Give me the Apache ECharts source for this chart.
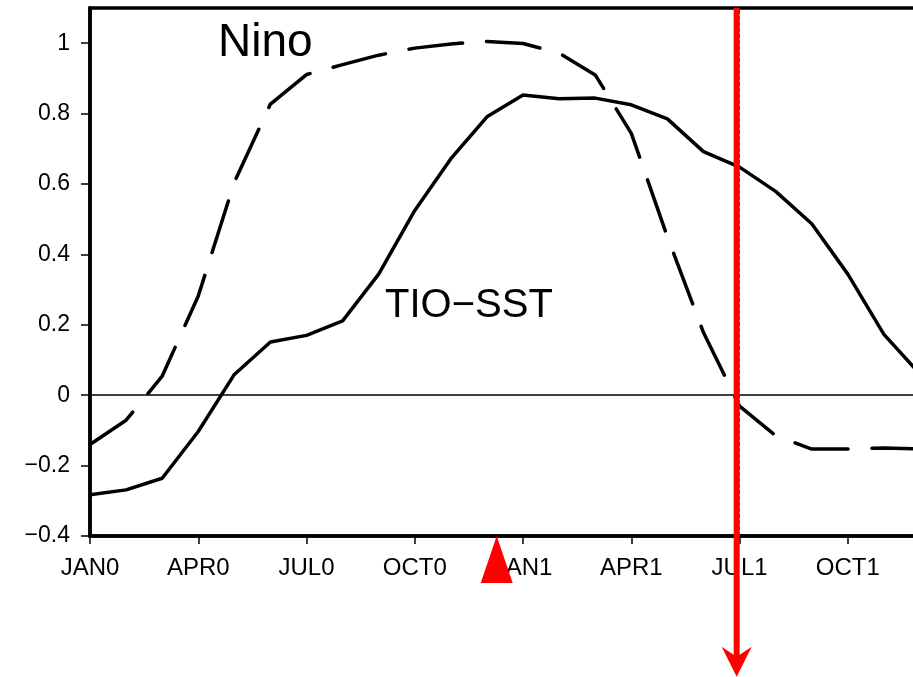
<!DOCTYPE html>
<html><head><meta charset="utf-8">
<script src="https://cdn.jsdelivr.net/npm/echarts@6/dist/echarts.min.js"></script>
<style>html,body{margin:0;padding:0;background:#fff}#c{width:913px;height:677px}</style>
</head><body><div id="c"></div>
<script>
// months from JAN0 (index 0) to DEC1 (index 23)
const months = ['JAN0','FEB0','MAR0','APR0','MAY0','JUN0','JUL0','AUG0','SEP0','OCT0','NOV0','DEC0',
                'JAN1','FEB1','MAR1','APR1','MAY1','JUN1','JUL1','AUG1','SEP1','OCT1','NOV1','DEC1'];
const tickMonths = [0, 3, 6, 9, 12, 15, 18, 21];
const tickLabels = ['JAN0','APR0','JUL0','OCT0','JAN1','APR1','JUL1','OCT1'];
const yTicks = [-0.4, -0.2, 0, 0.2, 0.4, 0.6, 0.8, 1];
const tioSST = [-0.283, -0.269, -0.236, -0.103, 0.059, 0.151, 0.170, 0.211, 0.344, 0.525, 0.672, 0.791,
                0.853, 0.842, 0.844, 0.825, 0.785, 0.692, 0.648, 0.579, 0.487, 0.344, 0.173, 0.060];
const nino   = [-0.140, -0.071, 0.054, 0.282, 0.605, 0.827, 0.911, 0.939, 0.966, 0.986, 0.998, 1.005,
                0.999, 0.972, 0.910, 0.744, 0.450, 0.178, -0.031, -0.115, -0.153, -0.153, -0.150, -0.153];
const triangleMonth = 11.27;
const arrowMonth = 17.92;
const arrowEndValue = -0.80;
const refLineMonth = 18;

const FONT = 'Liberation Sans';
const chart = echarts.init(document.getElementById('c'));
const fmtY = v => String(Math.round(v * 10) / 10).replace('-', '\u2212');

chart.setOption({
  animation: false,
  backgroundColor: '#fff',
  grid: { left: 90, right: -7, top: 8, bottom: 141, outerBoundsMode: 'none', containLabel: false,
          show: true, borderColor: '#000', borderWidth: 3.5, backgroundColor: 'transparent' },
  xAxis: {
    type: 'value', min: 0, max: months.length - 1, interval: 3,
    axisLine: { onZero: false, lineStyle: { color: '#000', width: 3.5 } },
    axisTick: { customValues: tickMonths, length: 8, lineStyle: { color: '#000', width: 1.5 } },
    axisLabel: { customValues: tickMonths, formatter: v => tickLabels[tickMonths.indexOf(v)] || '',
                 color: '#000', fontSize: 24, fontFamily: FONT, margin: 20 },
    splitLine: { show: false }
  },
  yAxis: {
    type: 'value', min: -0.4, max: 1.1, interval: 0.2,
    axisLine: { onZero: false, lineStyle: { color: '#000', width: 3.5 } },
    axisTick: { customValues: yTicks, length: 9, lineStyle: { color: '#000', width: 1.5 } },
    axisLabel: { customValues: yTicks, formatter: fmtY, color: '#000', fontSize: 23, fontFamily: FONT, margin: 20 },
    splitLine: { show: false }
  },
  series: [
    {
      name: 'Nino', type: 'line', symbol: 'none', z: 3,
      data: nino.map((v, i) => [i, v]),
      lineStyle: { color: '#000', width: 3.5, type: [54, 24], cap: 'round', join: 'round' },
      markLine: {
        silent: true, symbol: ['none', 'none'], label: { show: false },
        data: [
          { yAxis: 0, lineStyle: { color: '#000', width: 1.5, type: 'solid' } },
          { xAxis: refLineMonth, lineStyle: { color: '#555', width: 1, type: [4, 2] } }
        ]
      }
    },
    {
      name: 'TIO-SST', type: 'line', symbol: 'none', z: 4,
      data: tioSST.map((v, i) => [i, v]),
      lineStyle: { color: '#000', width: 3.5, type: 'solid', join: 'round' }
    }
  ]
});

const pTop = chart.convertToPixel({ gridIndex: 0 }, [arrowMonth, 1.1]);
const pTip = chart.convertToPixel({ gridIndex: 0 }, [arrowMonth, arrowEndValue]);
const pTri = chart.convertToPixel({ gridIndex: 0 }, [triangleMonth, -0.4]);
chart.setOption({
  graphic: [
    { type: 'line', z: 100, shape: { x1: pTop[0], y1: pTop[1], x2: pTip[0], y2: pTip[1] - 16 }, style: { stroke: '#ff0000', lineWidth: 6 } },
    { type: 'polygon', z: 100, shape: { points: [[pTip[0], pTip[1]], [pTip[0] - 15, pTip[1] - 30], [pTip[0], pTip[1] - 20], [pTip[0] + 15, pTip[1] - 30]] }, style: { fill: '#ff0000' } },
    { type: 'polygon', z: 100, shape: { points: [[pTri[0], pTri[1]], [pTri[0] - 16, pTri[1] + 47], [pTri[0] + 16, pTri[1] + 47]] }, style: { fill: '#ff0000' } },
    { type: 'text', z: 100, x: 218, y: 20, style: { text: 'Nino', fontSize: 46, fontFamily: FONT, fill: '#000' } },
    { type: 'text', z: 100, x: 385, y: 286, style: { text: 'TIO\u2212SST', fontSize: 40, fontFamily: FONT, fill: '#000' } }
  ]
});
</script>
</body></html>
